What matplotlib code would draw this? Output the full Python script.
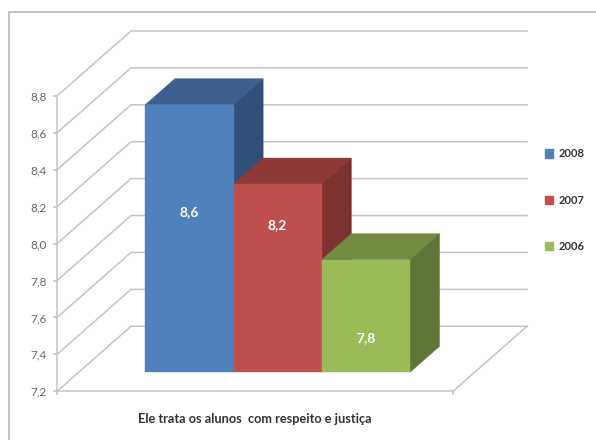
import matplotlib
matplotlib.use("Agg")
import matplotlib.pyplot as plt
from matplotlib.patches import Patch, Polygon
from matplotlib.lines import Line2D

years = ["2008", "2007", "2006"]
values = [8.65, 8.22, 7.81]
value_labels = ["8,6", "8,2", "7,8"]
y_ticks = [7.2, 7.4, 7.6, 7.8, 8.0, 8.2, 8.4, 8.6, 8.8]
title = "Ele trata os alunos  com respeito e justiça"

front_colors = ["#4f81bd", "#c0504d", "#9bbb59"]
top_colors = ["#3b6090", "#8f3a38", "#728c42"]
side_colors = ["#30507a", "#7c3230", "#5f7636"]
label_frac = [0.60, 0.78, 0.30]

plt.rcParams["font.family"] = ["Lato", "DejaVu Sans"]

W, H = 596, 440
fig = plt.figure(figsize=(W / 100, H / 100), dpi=100)

# outer chart frame
fig.add_artist(Line2D([9 / W, 9 / W, 1], [0, 1 - 12 / H, 1 - 12 / H], color="#bdbdbd", lw=1.3))

ax = fig.add_axes([57 / W, 1 - 391.3 / H, 396 / W, 295.3 / H])
ax.patch.set_alpha(0)
ax.set_xlim(-1.256, 3.233)
ax.set_ylim(7.2, 8.8)

# depth of the fake 3d box, in data units
wall_dx = 74 / 88.2
wall_dy = 65 / 184.5
grid = "#c4c4c4"
x0, x1 = ax.get_xlim()


def at(x, y, d):
    return (x + d * wall_dx, y + d * wall_dy)


for t in y_ticks:
    ax.plot(*zip(at(x0, t, 0), at(x0, t, 1), at(x1, t, 1)), color=grid, lw=1.1, clip_on=False, zorder=1)
ax.plot(*zip(at(x1, 7.2, 0), at(x1, 7.2, 1)), color=grid, lw=1.1, clip_on=False, zorder=1)

d0, d1 = 0.2923, 0.6923
for i, v in enumerate(values):
    left, right = i - 0.5, i + 0.5
    top = [at(left, v, d0), at(right, v, d0), at(right, v, d1), at(left, v, d1)]
    side = [at(right, 7.2, d0), at(right, v, d0), at(right, v, d1), at(right, 7.2, d1)]
    front = [at(left, 7.2, d0), at(right, 7.2, d0), at(right, v, d0), at(left, v, d0)]
    for pts, c in [(top, top_colors[i]), (side, side_colors[i]), (front, front_colors[i])]:
        ax.add_patch(Polygon(pts, closed=True, fc=c, ec=c, lw=0.3, clip_on=False, zorder=3 + i))
    lx, ly = at(i, 7.2 + (v - 7.2) * label_frac[i], d0)
    ax.text(lx, ly, value_labels[i], color="white", fontsize=10, fontweight="bold",
            ha="center", va="center", zorder=10)

for s in ["top", "right"]:
    ax.spines[s].set_visible(False)
for s in ["left", "bottom"]:
    ax.spines[s].set_color(grid)
    ax.spines[s].set_linewidth(1.1)

ax.set_yticks(y_ticks)
ax.set_yticklabels([f"{t:.1f}".replace(".", ",") for t in y_ticks], color="#666666", fontsize=8.5)
ax.set_xticks([x0, x1])
ax.set_xticklabels([])
ax.tick_params(axis="both", color=grid, length=3, width=1.1, pad=4.5)
ax.set_xlabel(title, fontsize=9.2, fontweight="bold", color="#333333", labelpad=8)

handles = [Patch(fc=c, ec=c) for c in front_colors]
fig.legend(handles, years, loc="center left", bbox_to_anchor=(545 / W, 1 - 200 / H), frameon=False,
           prop={"size": 8, "weight": "bold"}, labelcolor="#333333", labelspacing=3.16,
           handlelength=0.75, handleheight=0.75, handletextpad=0.45, borderpad=0, borderaxespad=0)

fig.savefig("out.png", dpi=100)
